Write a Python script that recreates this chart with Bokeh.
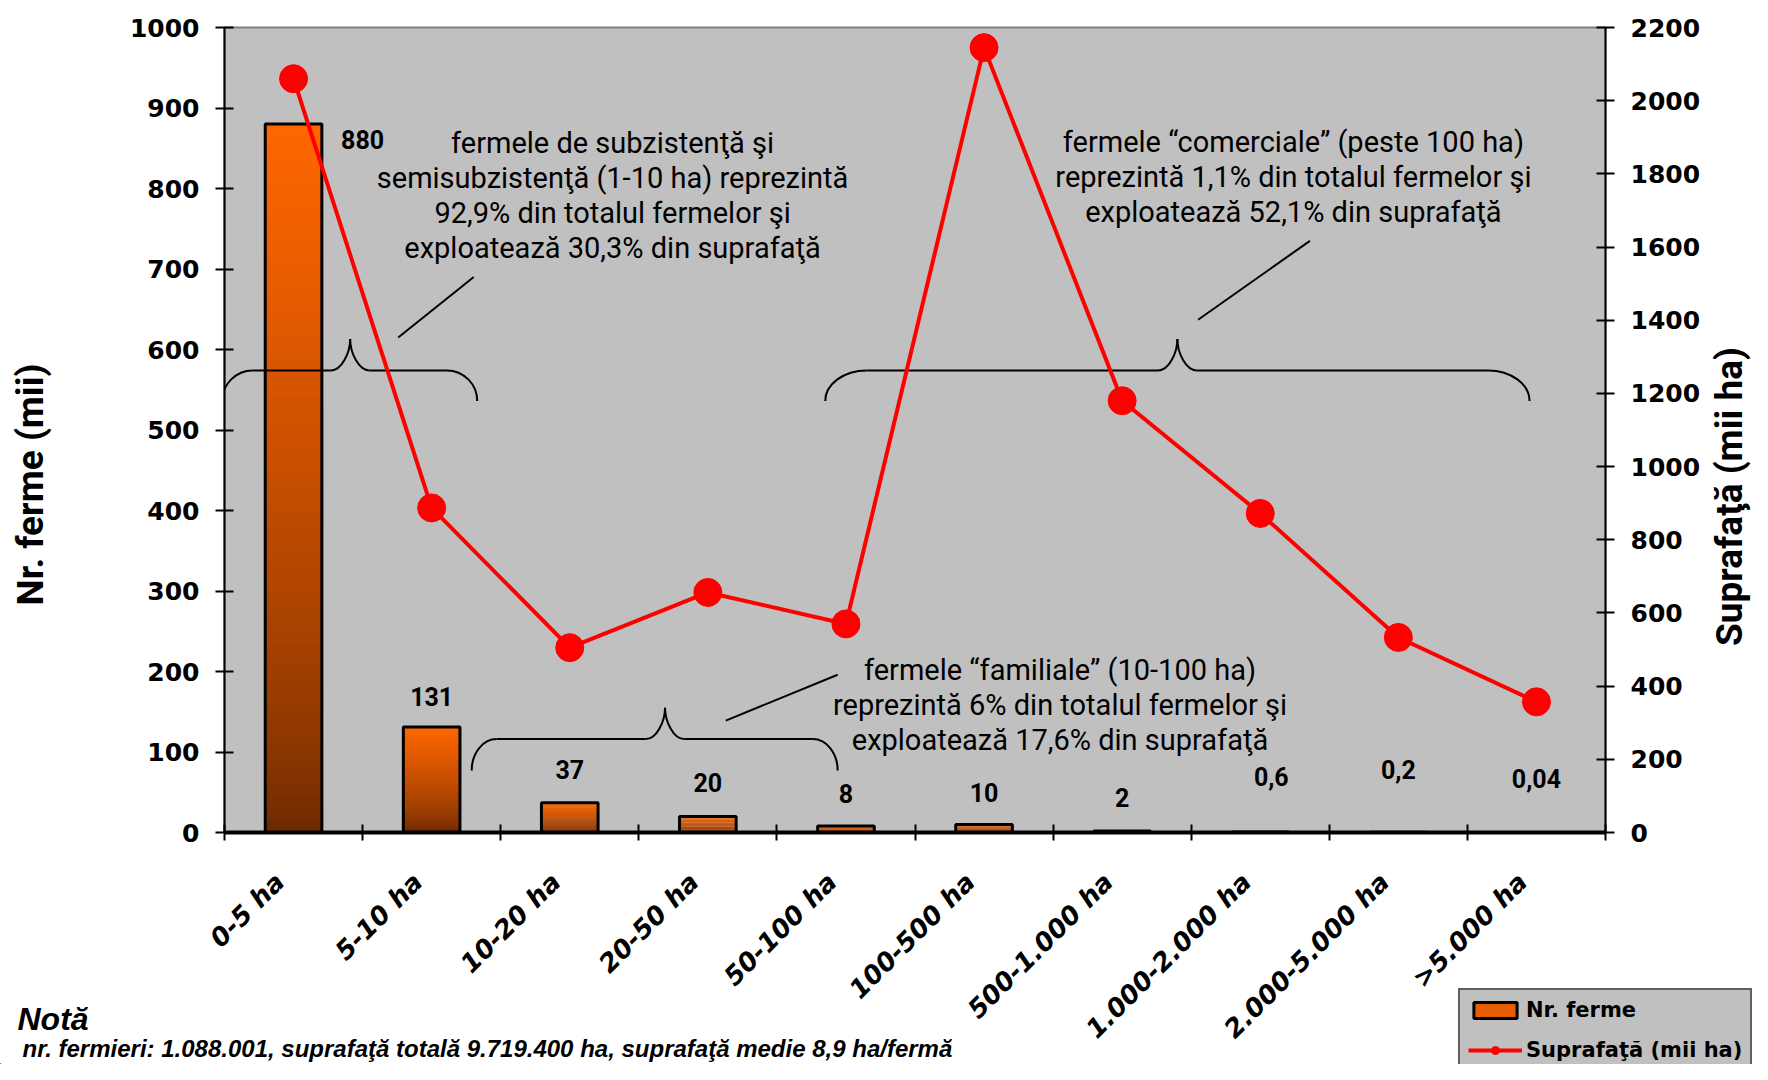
import math
import numpy as np
from bokeh.plotting import figure
from bokeh.layouts import column
from bokeh.models import (Range1d, LinearAxis, FixedTicker, Legend, LegendItem)
from bokeh.core.properties import value
from bokeh.embed import file_html
from bokeh.resources import INLINE

# ---------------- data ----------------
categories = ["0-5 ha", "5-10 ha", "10-20 ha", "20-50 ha", "50-100 ha", "100-500 ha",
              "500-1.000 ha", "1.000-2.000 ha", "2.000-5.000 ha", ">5.000 ha"]
nr_ferme = [880, 131, 37, 20, 8, 10, 2, 0.6, 0.2, 0.04]
nr_ferme_labels = ["880", "131", "37", "20", "8", "10", "2", "0,6", "0,2", "0,04"]
suprafata = [2060, 887, 505, 656, 570, 2145, 1180, 872, 533, 357]
left_ticks = list(range(0, 1001, 100))
right_ticks = list(range(0, 2201, 200))

ann_subz = "fermele de subzistenţă şi\nsemisubzistenţă (1-10 ha) reprezintă\n92,9% din totalul fermelor şi\nexploatează 30,3% din suprafaţă"
ann_com = "fermele “comerciale” (peste 100 ha)\nreprezintă 1,1% din totalul fermelor şi\nexploatează 52,1% din suprafaţă"
ann_fam = "fermele “familiale” (10-100 ha)\nreprezintă 6% din totalul fermelor şi\nexploatează 17,6% din suprafaţă"
note_title = "Notă"
note_text = "nr. fermieri: 1.088.001, suprafaţă totală 9.719.400 ha, suprafaţă medie 8,9 ha/fermă"
left_title = "Nr. ferme (mii)"
right_title = "Suprafaţă (mii ha)"
legend_labels = ["Nr. ferme", "Suprafaţă (mii ha)"]

# label placement (layout only)
label_dx = [0.5, 0, 0, 0, 0, 0, 0, 0.08, 0, 0]
label_y = [861, 169, 78, 62, 49, 50, 43, 69, 78, 67]

TXT = "Roboto"
W, H = 1752, 1064

n = len(categories)
xs = np.arange(n)

p = figure(frame_width=1381, frame_height=805,
           min_border_left=224, min_border_right=W - 224 - 1381, min_border_top=27,
           min_border_bottom=H - 27 - 805,
           x_range=Range1d(-0.5, n - 0.5), y_range=Range1d(0, 1000),
           output_backend="svg", toolbar_location=None,
           background_fill_color="#C0C0C0", border_fill_color="white",
           outline_line_color="#808080", outline_line_width=2)
p.extra_y_ranges = {"area": Range1d(0, 2200)}
p.xgrid.visible = False
p.ygrid.visible = False

# ---------------- gradient bars ----------------
bw = 0.41
N = 60
top_rgb = np.array([255, 102, 0])
bot_rgb = np.array([105, 40, 0])
L, R, B, T, C = [], [], [], [], []
for i, v in enumerate(nr_ferme):
    for k in range(N):
        t = ((k + 0.5) / N) ** 0.7
        rgb = bot_rgb + (top_rgb - bot_rgb) * t
        L.append(i - bw / 2)
        R.append(i + bw / 2)
        B.append(v * k / N)
        T.append(min(v, v * (k + 1.6) / N))
        C.append("#%02x%02x%02x" % tuple(int(round(c)) for c in rgb))
p.quad(left=L, right=R, bottom=B, top=T, fill_color=C, line_color=None)
p.vbar(x=xs, width=bw, top=nr_ferme, bottom=0, fill_color=None, line_color="black", line_width=3)

# ---------------- braces ----------------
def brace(x0, x1, xt, ye, yh, ytip, rx=0.22, rt=0.14):
    k = 0.552
    bz = []
    bz.append((x0, ye, x0 + rx, yh, x0, ye + (yh - ye) * k, x0 + rx * (1 - k), yh))
    bz.append((x1, ye, x1 - rx, yh, x1, ye + (yh - ye) * k, x1 - rx * (1 - k), yh))
    bz.append((xt - rt, yh, xt, ytip, xt - rt * (1 - k), yh, xt, yh + (ytip - yh) * k))
    bz.append((xt + rt, yh, xt, ytip, xt + rt * (1 - k), yh, xt, yh + (ytip - yh) * k))
    seg = [(x0 + rx, yh, xt - rt, yh), (xt + rt, yh, x1 - rx, yh)]
    return bz, seg

braces = [brace(-0.516, 1.33, 0.41, 536, 574, 613),
          brace(3.85, 8.95, 6.40, 536, 574, 613, rx=0.3),
          brace(1.29, 3.94, 2.69, 77, 116, 155, rx=0.18)]
bz_all = [b for br in braces for b in br[0]]
sg_all = [s for br in braces for s in br[1]]
sg_all += [(0.758, 615, 1.305, 690), (6.55, 637, 7.36, 735), (3.13, 139, 3.94, 196)]

p.bezier(x0=[b[0] for b in bz_all], y0=[b[1] for b in bz_all],
         x1=[b[2] for b in bz_all], y1=[b[3] for b in bz_all],
         cx0=[b[4] for b in bz_all], cy0=[b[5] for b in bz_all],
         cx1=[b[6] for b in bz_all], cy1=[b[7] for b in bz_all],
         line_color="black", line_width=2)
p.segment(x0=[s[0] for s in sg_all], y0=[s[1] for s in sg_all],
          x1=[s[2] for s in sg_all], y1=[s[3] for s in sg_all],
          line_color="black", line_width=2)

# ---------------- annotation texts ----------------
p.text(x=[2.31, 7.24, 5.55], y=[791, 814, 158], text=[ann_subz, ann_com, ann_fam],
       text_align="center", text_baseline="middle", text_font=value(TXT),
       text_font_size="29px", text_color="black", text_line_height=1.03)

p.text(x=[i + d for i, d in zip(range(n), label_dx)], y=label_y, text=nr_ferme_labels,
       text_align="center", text_baseline="middle", text_font=value(TXT),
       text_font_style="bold", text_font_size="25px", text_color="black")

# ---------------- line ----------------
p.line(xs, suprafata, y_range_name="area", line_color="#FF0000", line_width=4)
p.scatter(xs, suprafata, y_range_name="area", size=28, fill_color="#FF0000",
          line_color="#FF0000")

# ---------------- axes ----------------
def style_y(ax, ticks):
    ax.ticker = FixedTicker(ticks=ticks)
    ax.major_label_text_font = "DejaVu Sans"
    ax.major_label_text_font_style = "bold"
    ax.major_label_text_font_size = "25px"
    ax.major_label_text_color = "black"
    ax.major_tick_in = 9
    ax.major_tick_out = 9
    ax.major_tick_line_width = 2
    ax.major_tick_line_color = "black"
    ax.minor_tick_line_color = None
    ax.axis_line_width = 2
    ax.axis_line_color = "black"

ly = p.yaxis[0]
style_y(ly, left_ticks)
ly.major_label_standoff = 16

ra = LinearAxis(y_range_name="area")
style_y(ra, right_ticks)
ra.major_label_standoff = 16
p.add_layout(ra, "right")

xa = p.xaxis[0]
tick_pos = [i - 0.1 for i in range(n)]
xa.ticker = FixedTicker(ticks=tick_pos, minor_ticks=[i - 0.5 for i in range(n + 1)])
xa.major_label_overrides = {t: c for t, c in zip(tick_pos, categories)}
xa.major_tick_line_color = None
xa.major_tick_out = 8
xa.major_tick_in = 0
xa.minor_tick_in = 8
xa.minor_tick_out = 8
xa.minor_tick_line_width = 2
xa.minor_tick_line_color = "black"
xa.axis_line_width = 4
xa.axis_line_color = "black"
xa.major_label_orientation = math.pi / 4
xa.major_label_text_font = "DejaVu Sans"
xa.major_label_text_font_style = "bold italic"
xa.major_label_text_font_size = "26px"
xa.major_label_text_color = "black"
xa.major_label_standoff = 37

# ---------------- transparent overlay: titles, note, legend ----------------
p2 = figure(width=W, height=H, x_range=Range1d(0, W), y_range=Range1d(0, H),
            x_axis_type=None, y_axis_type=None, min_border=0,
            min_border_left=0, min_border_right=0, min_border_top=0, min_border_bottom=0,
            output_backend="svg", toolbar_location=None,
            background_fill_alpha=0, border_fill_alpha=0, outline_line_color=None)
p2.margin = (-H, 0, 0, 0)
if "frame_align" in p.properties():
    p.frame_align = False
    p2.frame_align = False

# axis titles (pixel layout: y measured upward from canvas bottom)
p2.text(x=[30, 1729], y=[H - 484, H - 496], text=[left_title, right_title],
        angle=[math.pi / 2, math.pi / 2], text_align="center", text_baseline="middle",
        text_font=value(TXT), text_font_style="bold", text_font_size="37px",
        text_color="black")

p2.text(x=[17], y=[H - 1000], text=[note_title], text_align="left",
        text_baseline="top", text_font=value("Liberation Sans"), text_font_style="bold italic",
        text_font_size="32px", text_color="black")
p2.text(x=[22], y=[H - 1034], text=[note_text], text_align="left",
        text_baseline="top", text_font=value("Liberation Sans"), text_font_style="bold italic",
        text_font_size="24px", text_color="black")

# legend proxies (placed outside the visible range; only their legend glyphs show)
leg_bar = p2.vbar(x=[-500], top=[-500], bottom=[-600], width=10, fill_color="#E65C00",
                  line_color="black", line_width=3)
leg_line = p2.line([-500, -400], [-500, -500], line_color="#FF0000", line_width=4)
leg_pt = p2.scatter([-500], [-500], size=20, fill_color="#FF0000", line_color="#FF0000")
legend = Legend(items=[LegendItem(label=legend_labels[0], renderers=[leg_bar]),
                       LegendItem(label=legend_labels[1], renderers=[leg_line, leg_pt])],
                location=(1458, -8), orientation="vertical",
                background_fill_color="#C0C0C0", background_fill_alpha=1,
                border_line_color="black", border_line_width=2,
                label_text_font="DejaVu Sans", label_text_font_style="bold",
                label_text_font_size="21px", label_text_color="black",
                glyph_width=54, glyph_height=20, label_height=24, spacing=16,
                padding=8, margin=0, label_standoff=4)
p2.add_layout(legend, "center")

layout = column(p, p2, spacing=0)
open("out.html", "w").write(file_html(layout, INLINE))
